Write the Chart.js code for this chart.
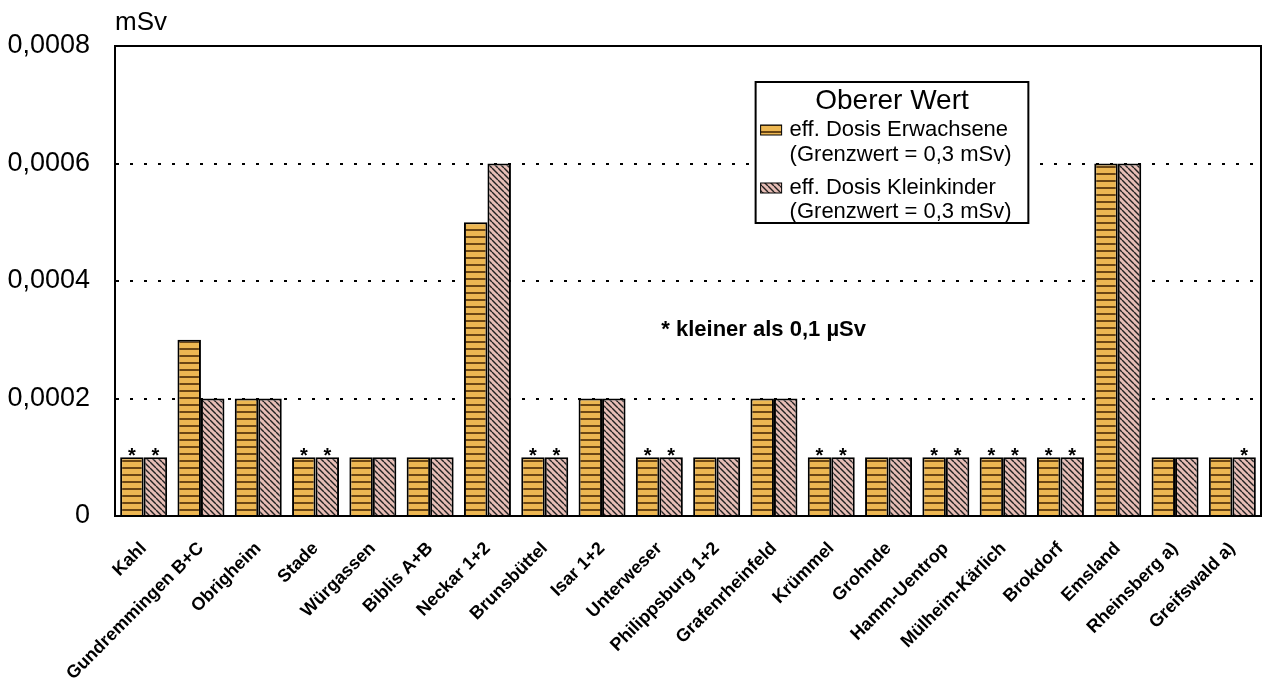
<!DOCTYPE html>
<html>
<head>
<meta charset="utf-8">
<script src="https://cdn.jsdelivr.net/npm/chart.js@4"></script>
<style>
  html, body { margin: 0; padding: 0; background: #fff; }
</style>
</head>
<body>
<canvas id="doseChart" width="1271" height="684"></canvas>
<script>
// Kraftwerke (Kategorien)
var plants = ["Kahl", "Gundremmingen B+C", "Obrigheim", "Stade", "Würgassen", "Biblis A+B",
  "Neckar 1+2", "Brunsbüttel", "Isar 1+2", "Unterweser", "Philippsburg 1+2", "Grafenrheinfeld",
  "Krümmel", "Grohnde", "Hamm-Uentrop", "Mülheim-Kärlich", "Brokdorf", "Emsland",
  "Rheinsberg a)", "Greifswald a)"];

// Werte in mSv
var adultDose = [0.0001, 0.0003, 0.0002, 0.0001, 0.0001, 0.0001, 0.0005, 0.0001, 0.0002, 0.0001,
  0.0001, 0.0002, 0.0001, 0.0001, 0.0001, 0.0001, 0.0001, 0.0006, 0.0001, 0.0001];
var childDose = [0.0001, 0.0002, 0.0002, 0.0001, 0.0001, 0.0001, 0.0006, 0.0001, 0.0002, 0.0001,
  0.0001, 0.0002, 0.0001, 0.0001, 0.0001, 0.0001, 0.0001, 0.0006, 0.0001, 0.0001];

// "*" = kleiner als 0,1 µSv
var adultStar = [1, 0, 0, 1, 0, 0, 0, 1, 0, 1, 0, 0, 1, 0, 1, 1, 1, 0, 0, 0];
var childStar = [1, 0, 0, 1, 0, 0, 0, 1, 0, 1, 0, 0, 1, 0, 1, 1, 1, 0, 0, 1];

var yTicks = [0, 0.0002, 0.0004, 0.0006, 0.0008];

var unitText = "mSv";
var noteText = "* kleiner als 0,1 µSv";
var legendTitle = "Oberer Wert";
var legendLines = [
  ["eff. Dosis Erwachsene", "(Grenzwert = 0,3 mSv)"],
  ["eff. Dosis Kleinkinder", "(Grenzwert = 0,3 mSv)"]
];

var FONT = "'Liberation Sans', Arial, sans-serif";

// Muster: waagerechte Streifen (Erwachsene)
function stripePattern() {
  var c = document.createElement("canvas");
  c.width = 8; c.height = 7;
  var g = c.getContext("2d");
  g.fillStyle = "#EDB752";
  g.fillRect(0, 0, 8, 7);
  g.fillStyle = "#6B4614";
  g.fillRect(0, 5, 8, 2);
  return g.createPattern(c, "repeat");
}

// Muster: schraege Linien (Kleinkinder)
function hatchPattern() {
  var c = document.createElement("canvas");
  c.width = 6; c.height = 6;
  var g = c.getContext("2d");
  g.fillStyle = "#E6BDB5";
  g.fillRect(0, 0, 6, 6);
  g.strokeStyle = "#222";
  g.lineWidth = 1.4;
  g.beginPath();
  [-6, 0, 6].forEach(function (x0) {
    g.moveTo(x0, 0);
    g.lineTo(x0 + 6, 6);
  });
  g.stroke();
  return g.createPattern(c, "repeat");
}

var ctx = document.getElementById("doseChart").getContext("2d");
var adultFill = stripePattern();
var childFill = hatchPattern();

var extras = {
  id: "extras",
  afterDatasetsDraw: function (chart) {
    var c = chart.ctx;
    var stars = [adultStar, childStar];
    c.save();
    c.fillStyle = "#000";
    c.font = "bold 20px " + FONT;
    c.textAlign = "center";
    c.textBaseline = "alphabetic";
    for (var d = 0; d < 2; d++) {
      chart.getDatasetMeta(d).data.forEach(function (el, i) {
        if (stars[d][i]) c.fillText("*", el.x, el.y + 5);
      });
    }
    c.restore();
  },
  afterDraw: function (chart) {
    var c = chart.ctx;
    var a = chart.chartArea;
    var y = chart.scales.y;
    c.save();
    // Rahmen
    c.strokeStyle = "#000";
    c.lineWidth = 2;
    c.strokeRect(a.left, a.top, a.right - a.left, a.bottom - a.top);

    // Einheit
    c.fillStyle = "#000";
    c.font = "26px " + FONT;
    c.textAlign = "left";
    c.textBaseline = "alphabetic";
    c.fillText(unitText, a.left, a.top - 16);

    // Hinweis
    c.font = "bold 22px " + FONT;
    c.textAlign = "center";
    c.textBaseline = "middle";
    c.fillText(noteText, a.left + (a.right - a.left) * 0.566, y.getPixelForValue(0.000317));

    // Legende
    var lx = a.left + (a.right - a.left) * 0.559;
    var rx = a.left + (a.right - a.left) * 0.797;
    var ty = a.top + 36;
    var by = a.top + 177;
    c.fillStyle = "#fff";
    c.fillRect(lx, ty, rx - lx, by - ty);
    c.strokeRect(lx, ty, rx - lx, by - ty);
    c.fillStyle = "#000";
    c.font = "28px " + FONT;
    c.fillText(legendTitle, (lx + rx) / 2, ty + 19);
    var rows = [[48, 73], [106, 130]];
    var fills = [adultFill, childFill];
    c.font = "22px " + FONT;
    c.textAlign = "left";
    for (var k = 0; k < 2; k++) {
      c.fillStyle = fills[k];
      c.fillRect(lx + 5, ty + rows[k][0] - 5, 21, 10);
      c.lineWidth = 1;
      c.strokeRect(lx + 5, ty + rows[k][0] - 5, 21, 10);
      c.fillStyle = "#000";
      c.fillText(legendLines[k][0], lx + 34, ty + rows[k][0]);
      c.fillText(legendLines[k][1], lx + 34, ty + rows[k][1]);
    }
    c.restore();
  }
};

var doseChart = new Chart(ctx, {
  type: "bar",
  data: {
    labels: plants,
    datasets: [
      {
        label: legendLines[0][0],
        data: adultDose,
        backgroundColor: adultFill,
        borderColor: "#000",
        borderWidth: 2,
        categoryPercentage: 0.82,
        barPercentage: 1.0
      },
      {
        label: legendLines[1][0],
        data: childDose,
        backgroundColor: childFill,
        borderColor: "#000",
        borderWidth: 2,
        categoryPercentage: 0.82,
        barPercentage: 1.0
      }
    ]
  },
  options: {
    responsive: false,
    animation: false,
    layout: { padding: { top: 46, right: 10, left: 0, bottom: 0 } },
    scales: {
      x: {
        grid: { display: false, drawTicks: false },
        border: { display: true, color: "#000", width: 2 },
        ticks: {
          color: "#000",
          font: { family: FONT, size: 18, weight: "bold" },
          minRotation: 45,
          maxRotation: 45,
          autoSkip: false,
          padding: 22
        },
        afterFit: function (scale) { scale.height = 168; }
      },
      y: {
        min: 0,
        max: 0.0008,
        afterBuildTicks: function (scale) {
          scale.ticks = yTicks.map(function (v) { return { value: v }; });
        },
        grid: {
          drawTicks: false,
          lineWidth: 2,
          color: function (c) {
            var v = c.tick ? c.tick.value : 0;
            return v > 0 && v < 0.0008 ? "#000" : "rgba(0,0,0,0)";
          }
        },
        border: { display: true, color: "#000", width: 2, dash: [3, 11] },
        ticks: {
          color: "#000",
          font: { family: FONT, size: 27 },
          padding: 25,
          callback: function (value) {
            return value === 0 ? "0" : value.toFixed(4).replace(".", ",");
          }
        },
        afterFit: function (scale) { scale.width = 115; }
      }
    },
    plugins: {
      legend: { display: false },
      tooltip: { enabled: false }
    }
  },
  plugins: [extras]
});
</script>
</body>
</html>
